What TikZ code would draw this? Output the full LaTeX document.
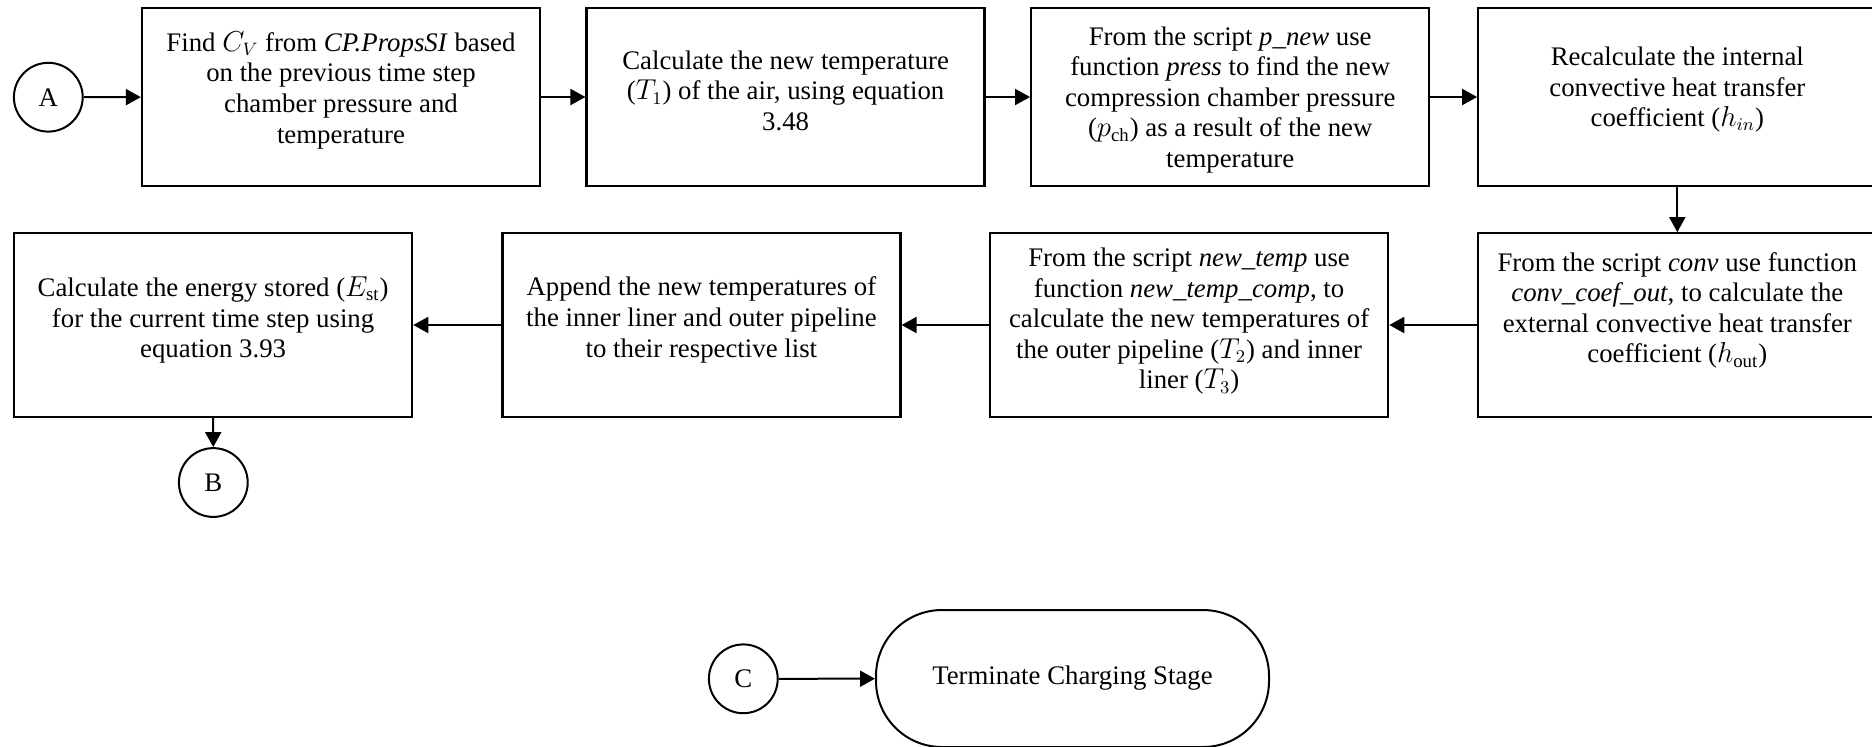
\documentclass[tikz,border=0pt]{standalone}
\usepackage{fontspec}
\setmainfont{Liberation Serif}
\usetikzlibrary{arrows.meta}
\begin{document}
\begin{tikzpicture}[x=0.5pt,y=-0.5pt,
  every node/.style={font=\fontsize{13.4}{15.3}\selectfont},
  stepbox/.style={draw, line width=1.15pt, minimum width=199pt, inner sep=0pt},
  toprow/.style={stepbox, minimum height=88.7pt},
  botrow/.style={stepbox, minimum height=91.7pt},
  txt/.style={align=center, inner sep=0pt},
  connector/.style={draw, circle, line width=1pt, minimum size=34.4pt, inner sep=0pt},
  terminal/.style={draw, line width=1pt, rounded corners=33pt,
    minimum width=196.5pt, minimum height=68.5pt, inner sep=0pt},
  flow/.style={line width=1pt, -{Triangle[length=7.5pt,width=8pt]}}]
\useasboundingbox (0,0) rectangle (1872,746);

% first row, left to right
\node[connector] (A) at (48.3,97.2) {A};
\node[toprow] (b1) at (341,97) {};
\node[toprow] (b2) at (785.6,97) {};
\node[toprow] (b3) at (1230.2,97) {};
\node[toprow] (b4) at (1677.3,97) {};

% second row, right to left
\node[botrow] (b5) at (1677.3,325) {};
\node[botrow] (b6) at (1189.1,325) {};
\node[botrow] (b7) at (701.4,325) {};
\node[botrow] (b8) at (213.1,325) {};
\node[connector] (B) at (213.3,482.5) {B};

% end of the charging stage
\node[connector] (C) at (743.3,678.8) {C};
\node[terminal] (term) at (1072.5,678.5) {Terminate Charging Stage};

% box texts
\node[txt] (t1) at (341,90.2) {Find $C_V$ from \textit{CP.PropsSI} based\\ on the previous time step\\ chamber pressure and\\ temperature};
\node[txt] (t2) at (785.6,90.7) {Calculate the new temperature\\ ($T_1$) of the air, using equation\\ 3.48};
\node[txt] (t3) at (1230.2,99.8) {From the script \textit{p\_new} use\\ function \textit{press} to find the new\\ compression chamber pressure\\ ($p_{\mathrm{ch}}$) as a result of the new\\ temperature};
\node[txt] (t4) at (1677.3,89.6) {Recalculate the internal\\ convective heat transfer\\ coefficient ($h_{in}$)};
\node[txt] (t5) at (1677.3,310.4) {From the script \textit{conv} use function\\ \textit{conv\_coef\_out}, to calculate the\\ external convective heat transfer\\ coefficient ($h_{\mathrm{out}}$)};
\node[txt] (t6) at (1189.1,321.2) {From the script \textit{new\_temp} use\\ function \textit{new\_temp\_comp}, to\\ calculate the new temperatures of\\ the outer pipeline ($T_2$) and inner\\ liner ($T_3$)};
\node[txt] (t7) at (701.4,320) {Append the new temperatures of\\ the inner liner and outer pipeline\\ to their respective list};
\node[txt] (t8) at (213.1,320) {Calculate the energy stored ($E_{\mathrm{st}}$)\\ for the current time step using\\ equation 3.93};

% connectors
\draw[flow] (A) -- (b1);
\draw[flow] (b1) -- (b2);
\draw[flow] (b2) -- (b3);
\draw[flow] (b3) -- (b4);
\draw[flow] (b4) -- (b5);
\draw[flow] (b5) -- (b6);
\draw[flow] (b6) -- (b7);
\draw[flow] (b7) -- (b8);
\draw[flow] (b8) -- (B);
\draw[flow] (C) -- (term);
\end{tikzpicture}
\end{document}
